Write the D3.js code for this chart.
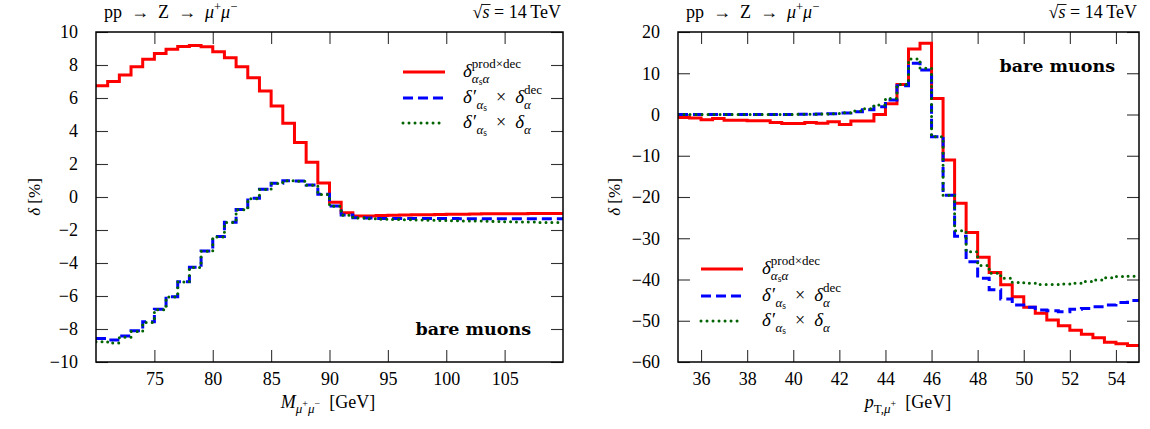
<!DOCTYPE html>
<html><head><meta charset="utf-8">
<script src="https://cdn.jsdelivr.net/npm/d3@7"></script>
<style>
body{margin:0;background:#fff;}
text{font-family:"Liberation Serif","Times New Roman",serif;fill:#000;white-space:pre;}
.tick line{stroke:#333;stroke-width:1.1;}
.tick text{font-size:18px;font-family:"Liberation Serif",serif;}
</style></head>
<body><svg id="c" width="1150" height="429" xml:space="preserve"></svg>
<script>
// ---------- data ----------
// Left panel: M(mu+mu-) bins, 1 GeV wide, lower edges 70..109
const massBinLow = d3.range(70, 110, 1);
const massBinWidth = 1;
const massRed = [6.75,7.0,7.4,7.9,8.35,8.7,8.95,9.12,9.18,9.1,8.8,8.44,7.9,7.23,6.42,5.52,4.47,3.31,2.1,0.85,
  -0.32,-0.95,-1.15,-1.15,-1.12,-1.1,-1.09,-1.08,-1.07,-1.06,-1.05,-1.04,-1.03,-1.02,-1.02,-1.01,-1.01,-1.0,-1.0,-1.0];
const massBlue = [-8.57,-8.67,-8.42,-8.1,-7.56,-6.81,-6.04,-5.13,-4.26,-3.27,-2.4,-1.53,-0.75,-0.08,0.47,0.83,0.99,0.97,0.72,0.16,
  -0.55,-1.09,-1.25,-1.28,-1.3,-1.3,-1.3,-1.31,-1.31,-1.31,-1.31,-1.32,-1.32,-1.32,-1.32,-1.32,-1.32,-1.32,-1.32,-1.32];
const massGreen = [-8.77,-8.85,-8.5,-8.15,-7.6,-6.84,-6.06,-5.15,-4.28,-3.29,-2.42,-1.55,-0.77,-0.1,0.46,0.82,0.98,0.96,0.71,0.15,
  -0.56,-1.1,-1.28,-1.32,-1.35,-1.37,-1.38,-1.4,-1.41,-1.42,-1.44,-1.45,-1.46,-1.47,-1.48,-1.5,-1.51,-1.52,-1.54,-1.55];
const massTicksX = [75,80,85,90,95,100,105];
const massTicksY = [-10,-8,-6,-4,-2,0,2,4,6,8,10];

// Right panel: pT(mu+) bins, 0.5 GeV wide, lower edges 35..54.5
const ptBinLow = d3.range(35, 55, 0.5);
const ptBinWidth = 0.5;
const ptRed = [-0.75,-0.85,-1.3,-0.95,-1.4,-1.4,-1.5,-1.5,-1.95,-2.2,-2.2,-1.95,-2.1,-1.75,-2.4,-1.6,-1.6,0.0,2.6,7.3,
  15.9,17.25,3.9,-11.0,-21.5,-28.6,-34.6,-38.3,-41.3,-44.2,-46.7,-48.2,-49.8,-51.2,-52.3,-53.3,-54.1,-55.2,-55.6,-56.0];
const ptBlue = [0.0,0.0,0.0,0.0,0.0,0.0,0.0,0.0,0.02,0.02,0.05,0.05,0.1,0.2,0.36,0.69,1.17,1.9,3.5,7.0,
  12.4,10.8,-5.4,-19.6,-29.5,-35.7,-39.7,-42.5,-44.7,-46.2,-46.7,-47.4,-47.6,-47.8,-47.2,-47.0,-46.6,-46.2,-45.6,-45.1];
const ptGreen = [0.0,0.0,0.0,0.0,0.0,0.0,0.0,0.0,0.02,0.02,0.05,0.05,0.1,0.2,0.4,0.85,1.4,2.3,3.9,7.3,
  13.45,11.2,-5.4,-19.6,-28.2,-33.3,-36.6,-38.5,-39.7,-40.7,-40.9,-41.2,-41.2,-41.1,-40.9,-40.5,-40.1,-39.6,-39.3,-39.2];
const ptTicksX = [36,38,40,42,44,46,48,50,52,54];
const ptTicksY = [-60,-50,-40,-30,-20,-10,0,10,20];

const colors = {red:"#ff0000", blue:"#0000ff", green:"#006400"};

// ---------- helpers ----------
const svg = d3.select("#c");

function mathText(g, x, y, items, baseSize) {
  let cx = x;
  const runs = (list, yy) => {
    list.forEach(r => {
      const t = g.append("text").attr("x", cx).attr("y", yy + (r.dy || 0))
        .attr("xml:space", "preserve")
        .style("font-size", (r.size || baseSize) + "px")
        .style("font-style", r.it ? "italic" : "normal")
        .text(r.t);
      cx += t.node().getComputedTextLength() + (r.kern || 0);
    });
  };
  items.forEach(it => {
    if (it.sup || it.sub) {
      const sx = cx; let e1 = cx, e2 = cx;
      if (it.sup) { runs(it.sup, y); e1 = cx; }
      cx = sx;
      if (it.sub) { runs(it.sub, y); e2 = cx; }
      cx = Math.max(e1, e2);
    } else runs([it], y);
  });
  return cx - x;
}

function panel(cfg) {
  const x = d3.scaleLinear().domain(cfg.xdom).range([cfg.x0, cfg.x1]);
  const y = d3.scaleLinear().domain(cfg.ydom).range([cfg.y1, cfg.y0]);
  const g = svg.append("g");
  const cid = "clip" + cfg.id;
  svg.append("clipPath").attr("id", cid).append("rect")
    .attr("x", cfg.x0).attr("y", cfg.y0).attr("width", cfg.x1 - cfg.x0).attr("height", cfg.y1 - cfg.y0);

  const tk = 12;
  const ab = g.append("g").attr("transform", `translate(0,${cfg.y1})`)
    .call(d3.axisBottom(x).tickValues(cfg.xticks).tickSize(-tk).tickPadding(10).tickFormat(d3.format("d")));
  const at = g.append("g").attr("transform", `translate(0,${cfg.y0})`)
    .call(d3.axisTop(x).tickValues(cfg.xticks).tickSize(-tk).tickFormat(""));
  const al = g.append("g").attr("transform", `translate(${cfg.x0},0)`)
    .call(d3.axisLeft(y).tickValues(cfg.yticks).tickSize(-tk).tickPadding(18).tickFormat(d3.format("d")));
  const ar = g.append("g").attr("transform", `translate(${cfg.x1},0)`)
    .call(d3.axisRight(y).tickValues(cfg.yticks).tickSize(-tk).tickFormat(""));
  [ab, at, al, ar].forEach(a => { a.select(".domain").remove(); a.attr("font-family", null).attr("font-size", null); a.selectAll("text").attr("fill", "#000"); });

  const line = d3.line().x(d => x(d[0])).y(d => y(d[1])).curve(d3.curveStepAfter);
  const pts = (vals) => vals.map((v, i) => [cfg.bins[i], v]).concat([[cfg.bins[cfg.bins.length - 1] + cfg.bw, vals[vals.length - 1]]]);
  const lg = g.append("g").attr("clip-path", `url(#${cid})`);
  lg.append("path").attr("d", line(pts(cfg.red))).attr("fill", "none").attr("stroke", colors.red).attr("stroke-width", 3);
  lg.append("path").attr("d", line(pts(cfg.blue))).attr("fill", "none").attr("stroke", colors.blue).attr("stroke-width", 3).attr("stroke-dasharray", "10,5");
  lg.append("path").attr("d", line(pts(cfg.green))).attr("fill", "none").attr("stroke", colors.green).attr("stroke-width", 3)
    .attr("stroke-dasharray", "0.01,6").attr("stroke-linecap", "round");

  g.append("rect").attr("x", cfg.x0).attr("y", cfg.y0).attr("width", cfg.x1 - cfg.x0).attr("height", cfg.y1 - cfg.y0)
    .attr("fill", "none").attr("stroke", "#000").attr("stroke-width", 1.5);

  // title
  mathText(g, cfg.x0 + 8, 18, [
    {t: "pp\u2002\u2192\u2002Z\u2002\u2192\u2002"}, {t: "\u03bc", it: true}, {sup: [{t: "+", size: 12.5, dy: -7}]},
    {t: "\u03bc", it: true}, {sup: [{t: "\u2212", size: 12.5, dy: -7}]}
  ], 18);
  // sqrt(s) = 14 TeV  (right aligned)
  const tg = g.append("g");
  const w = mathText(tg, 0, 18, [{t: "\u221a", kern: 0}, {t: "s", it: true}, {t: " = 14\u2009TeV"}], 18);
  const sq = tg.selectAll("text").nodes();
  const sqW = sq[0].getComputedTextLength();
  const sW = sq[1].getComputedTextLength();
  tg.append("line").attr("x1", sqW - 1).attr("x2", sqW + sW + 1).attr("y1", 4.5).attr("y2", 4.5).attr("stroke", "#000").attr("stroke-width", 0.9);
  tg.attr("transform", `translate(${cfg.x1 - 2 - w},0)`);

  // y label
  const yl = g.append("g").attr("transform", `translate(${cfg.ylabX},${(cfg.y0 + cfg.y1) / 2}) rotate(-90)`);
  const yw = mathText(yl, 0, 0, [{t: "\u03b4", it: true}, {t: " [%]"}], 17);
  yl.selectAll("text").attr("transform", `translate(${-yw / 2},0)`);

  // x label
  const xl = g.append("g");
  const xw = mathText(xl, 0, 0, cfg.xlabel, 18);
  xl.attr("transform", `translate(${cfg.xlabCx - xw / 2},${cfg.xlabY})`);

  // bare muons
  g.append("text").attr("x", cfg.bmX).attr("y", cfg.bmY).attr("text-anchor", "end")
    .style("font-family", "'DejaVu Serif',serif")
    .style("font-weight", "bold").style("font-size", "17.5px").text("bare muons");

  // legend
  const L = cfg.leg;
  const entries = [
    {c: colors.red, dash: null, items: [{t: "\u03b4", it: true, size: 19},
      {sup: [{t: "prod\u00d7dec", size: 13, dy: -9}], sub: [{t: "\u03b1", it: true, size: 13, dy: 6}, {t: "s", size: 9.5, dy: 8}, {t: "\u03b1", it: true, size: 13, dy: 6}]}]},
    {c: colors.blue, dash: "10,5", items: [{t: "\u03b4\u2032", it: true, size: 19, kern: 0.5},
      {t: "\u03b1", it: true, size: 13, dy: 6}, {t: "s", size: 9.5, dy: 8},
      {t: "  \u00d7  ", size: 18}, {t: "\u03b4", it: true, size: 19},
      {sup: [{t: "dec", size: 13, dy: -9}], sub: [{t: "\u03b1", it: true, size: 13, dy: 6}]}]},
    {c: colors.green, dash: "0.01,6", items: [{t: "\u03b4\u2032", it: true, size: 19, kern: 0.5},
      {t: "\u03b1", it: true, size: 13, dy: 6}, {t: "s", size: 9.5, dy: 8},
      {t: "  \u00d7  ", size: 18}, {t: "\u03b4", it: true, size: 19},
      {t: "\u03b1", it: true, size: 13, dy: 6}]}
  ];
  entries.forEach((e, i) => {
    const yy = L.ys[i];
    const ln = g.append("line").attr("x1", L.lx0).attr("x2", L.lx1).attr("y1", yy).attr("y2", yy)
      .attr("stroke", e.c).attr("stroke-width", 3);
    if (e.dash) ln.attr("stroke-dasharray", e.dash);
    if (e.c === colors.green) ln.attr("stroke-linecap", "round");
    mathText(g, L.tx, yy + 5, e.items, 18);
  });
}

panel({id: "L", x0: 96, x1: 563, y0: 32, y1: 362, xdom: [70, 110], ydom: [-10, 10],
  xticks: massTicksX, yticks: massTicksY, bins: massBinLow, bw: massBinWidth,
  red: massRed, blue: massBlue, green: massGreen, ylabX: 40, xlabY: 408, xlabCx: 328,
  xlabel: [{t: "M", it: true, size: 18}, {t: "\u03bc", it: true, size: 13, dy: 5}, {t: "+", size: 10, dy: -1}, {t: "\u03bc", it: true, size: 13, dy: 5}, {t: "\u2212", size: 10, dy: -1}, {t: "  [GeV]", size: 18}],
  bmX: 531, bmY: 335,
  leg: {lx0: 403, lx1: 445, tx: 463, ys: [72, 98, 123]}});

panel({id: "R", x0: 678, x1: 1139, y0: 32, y1: 362, xdom: [35, 55], ydom: [-60, 20],
  xticks: ptTicksX, yticks: ptTicksY, bins: ptBinLow, bw: ptBinWidth,
  red: ptRed, blue: ptBlue, green: ptGreen, ylabX: 620, xlabY: 408, xlabCx: 908,
  xlabel: [{t: "p", it: true, size: 18}, {t: "T,", size: 13, dy: 5}, {t: "\u03bc", it: true, size: 13, dy: 5}, {t: "+", size: 10, dy: -1}, {t: "  [GeV]", size: 18}],
  bmX: 1115, bmY: 72,
  leg: {lx0: 701, lx1: 743, tx: 762, ys: [269, 296, 321]}});
</script></body></html>
